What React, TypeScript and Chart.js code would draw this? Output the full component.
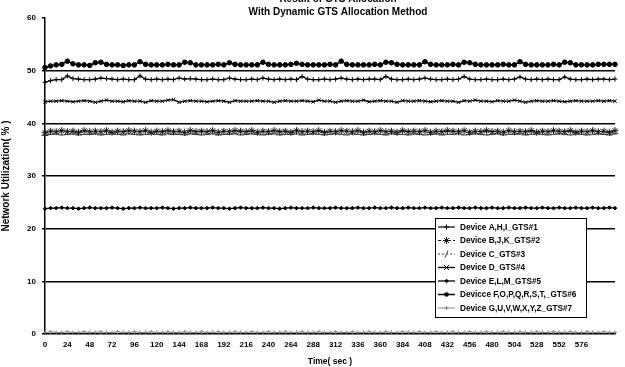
import React, { useEffect, useRef } from "react";
import { Chart, registerables } from "chart.js";

Chart.register(...registerables);

const titleLines = ["Result of GTS Allocation", "With Dynamic GTS Allocation Method"];
const xTitle = "Time( sec )";
const yTitle = "Network Utilization( % )";

const times = [
  0, 6, 12, 18, 24, 30, 36, 42, 48, 54, 60, 66, 72, 78, 84, 90, 96, 102, 108, 114,
  120, 126, 132, 138, 144, 150, 156, 162, 168, 174, 180, 186, 192, 198, 204, 210, 216, 222, 228, 234,
  240, 246, 252, 258, 264, 270, 276, 282, 288, 294, 300, 306, 312, 318, 324, 330, 336, 342, 348, 354,
  360, 366, 372, 378, 384, 390, 396, 402, 408, 414, 420, 426, 432, 438, 444, 450, 456, 462, 468, 474,
  480, 486, 492, 498, 504, 510, 516, 522, 528, 534, 540, 546, 552, 558, 564, 570, 576, 582, 588, 594,
  600, 606, 612,
];

const gts1 = [
  47.8, 48.1, 48.3, 48.3, 49.0, 48.5, 48.4, 48.3, 48.3, 48.4,
  48.6, 48.5, 48.4, 48.3, 48.4, 48.3, 48.3, 49.0, 48.4, 48.3,
  48.4, 48.3, 48.4, 48.3, 48.6, 48.4, 48.5, 48.4, 48.3, 48.3,
  48.4, 48.3, 48.3, 48.6, 48.4, 48.3, 48.3, 48.4, 48.3, 48.6,
  48.4, 48.3, 48.4, 48.3, 48.4, 48.3, 48.9, 48.4, 48.3, 48.3,
  48.4, 48.3, 48.4, 48.6, 48.4, 48.3, 48.4, 48.3, 48.4, 48.4,
  48.3, 48.9, 48.4, 48.3, 48.3, 48.4, 48.3, 48.4, 48.6, 48.4,
  48.3, 48.3, 48.4, 48.3, 48.4, 48.9, 48.4, 48.3, 48.3, 48.4,
  48.3, 48.3, 48.4, 48.3, 48.4, 48.8, 48.4, 48.3, 48.4, 48.3,
  48.4, 48.3, 48.3, 48.8, 48.4, 48.3, 48.3, 48.4, 48.3, 48.4,
  48.4, 48.3, 48.4,
];

const gts2 = [
  38.2, 38.5, 38.4, 38.6, 38.4, 38.5, 38.3, 38.6, 38.4, 38.5,
  38.4, 38.6, 38.3, 38.5, 38.4, 38.6, 38.5, 38.4, 38.6, 38.3,
  38.5, 38.4, 38.6, 38.4, 38.5, 38.3, 38.6, 38.4, 38.5, 38.4,
  38.6, 38.3, 38.5, 38.4, 38.6, 38.5, 38.4, 38.6, 38.3, 38.5,
  38.4, 38.6, 38.4, 38.5, 38.3, 38.6, 38.4, 38.5, 38.4, 38.6,
  38.3, 38.5, 38.4, 38.6, 38.5, 38.4, 38.6, 38.3, 38.5, 38.4,
  38.6, 38.4, 38.5, 38.3, 38.6, 38.4, 38.5, 38.4, 38.6, 38.3,
  38.5, 38.4, 38.6, 38.5, 38.4, 38.6, 38.3, 38.5, 38.4, 38.6,
  38.4, 38.5, 38.3, 38.6, 38.4, 38.5, 38.4, 38.6, 38.3, 38.5,
  38.4, 38.6, 38.5, 38.4, 38.6, 38.3, 38.5, 38.4, 38.6, 38.4,
  38.5, 38.3, 38.6,
];

const gts3 = [
  37.7, 37.9, 38.0, 37.8, 37.9, 38.0, 37.8, 37.9, 37.9, 38.0,
  37.8, 37.9, 38.0, 37.9, 37.8, 38.0, 37.9, 37.8, 37.9, 38.0,
  37.9, 37.8, 38.0, 37.9, 37.9, 37.8, 38.0, 37.9, 37.8, 37.9,
  38.0, 37.8, 37.9, 37.9, 38.0, 37.8, 37.9, 38.0, 37.9, 37.8,
  37.9, 38.0, 37.8, 37.9, 37.9, 38.0, 37.8, 37.9, 38.0, 37.9,
  37.8, 37.9, 38.0, 37.9, 37.8, 38.0, 37.9, 37.8, 37.9, 38.0,
  37.9, 37.8, 38.0, 37.9, 37.9, 37.8, 38.0, 37.9, 37.8, 37.9,
  38.0, 37.8, 37.9, 37.9, 38.0, 37.8, 37.9, 38.0, 37.9, 37.8,
  37.9, 38.0, 37.8, 37.9, 37.9, 38.0, 37.8, 37.9, 38.0, 37.9,
  37.8, 37.9, 38.0, 37.9, 37.8, 38.0, 37.9, 37.8, 37.9, 38.0,
  37.9, 37.8, 38.0,
];

const gts4 = [
  44.1, 44.2, 44.2, 44.3, 44.2, 44.1, 44.2, 44.3, 44.2, 44.0,
  44.2, 44.4, 44.2, 44.2, 44.1, 44.3, 44.2, 44.2, 44.0, 44.3,
  44.2, 44.2, 44.4, 44.5, 44.0, 44.2, 44.3, 44.2, 44.2, 44.1,
  44.2, 44.3, 44.2, 44.0, 44.3, 44.2, 44.2, 44.2, 44.3, 44.2,
  44.2, 44.0, 44.2, 44.3, 44.2, 44.2, 44.3, 44.2, 44.1, 44.4,
  44.2, 44.2, 44.0, 44.2, 44.3, 44.2, 44.2, 44.4, 44.1, 44.2,
  44.3, 44.2, 44.2, 44.0, 44.3, 44.2, 44.2, 44.3, 44.2, 44.1,
  44.2, 44.3, 44.2, 44.2, 44.0, 44.3, 44.2, 44.4, 44.2, 44.2,
  44.1, 44.3, 44.2, 44.2, 44.4, 44.2, 44.0, 44.2, 44.3, 44.2,
  44.2, 44.3, 44.2, 44.1, 44.2, 44.3, 44.2, 44.2, 44.2, 44.3,
  44.2, 44.3, 44.2,
];

const gts5 = [
  23.8, 23.9, 23.9, 24.0, 23.9, 23.9, 23.8, 23.9, 24.0, 23.9,
  23.9, 23.9, 24.0, 23.9, 23.8, 23.9, 23.9, 24.0, 23.9, 23.9,
  23.9, 24.0, 23.9, 23.8, 23.9, 23.9, 24.0, 23.9, 23.9, 23.9,
  24.0, 23.9, 23.9, 23.8, 23.9, 24.0, 23.9, 23.9, 23.9, 24.0,
  23.9, 23.9, 23.8, 23.9, 24.0, 23.9, 23.9, 23.9, 24.0, 23.9,
  23.9, 23.9, 24.0, 23.9, 23.9, 23.9, 24.0, 23.9, 23.9, 24.0,
  23.9, 23.9, 24.0, 23.9, 23.9, 24.0, 23.9, 23.9, 24.0, 23.9,
  23.9, 24.0, 23.9, 23.9, 24.0, 23.9, 23.9, 24.0, 23.9, 23.9,
  24.0, 23.9, 23.9, 24.0, 23.9, 23.9, 24.0, 23.9, 23.9, 24.0,
  23.9, 23.9, 24.0, 23.9, 23.9, 24.0, 23.9, 23.9, 24.0, 23.9,
  23.9, 24.0, 23.9,
];

const gts6 = [
  50.6, 50.9, 51.1, 51.2, 51.8, 51.3, 51.1, 51.1, 51.0, 51.5,
  51.6, 51.2, 51.1, 51.1, 51.0, 51.1, 51.1, 51.7, 51.2, 51.1,
  51.1, 51.1, 51.2, 51.1, 51.1, 51.6, 51.5, 51.1, 51.1, 51.1,
  51.1, 51.2, 51.1, 51.5, 51.2, 51.1, 51.1, 51.1, 51.1, 51.6,
  51.2, 51.1, 51.1, 51.1, 51.2, 51.4, 51.2, 51.1, 51.1, 51.1,
  51.1, 51.2, 51.1, 51.8, 51.2, 51.1, 51.1, 51.1, 51.1, 51.2,
  51.1, 51.6, 51.5, 51.2, 51.1, 51.1, 51.1, 51.1, 51.7, 51.2,
  51.1, 51.1, 51.1, 51.2, 51.1, 51.6, 51.5, 51.2, 51.1, 51.1,
  51.1, 51.1, 51.2, 51.1, 51.1, 51.7, 51.2, 51.1, 51.1, 51.1,
  51.1, 51.2, 51.1, 51.6, 51.5, 51.1, 51.1, 51.1, 51.1, 51.2,
  51.2, 51.2, 51.2,
];

const gts7 = [
  0.3, 0.4, 0.3, 0.3, 0.4, 0.3, 0.3, 0.4, 0.3, 0.3,
  0.4, 0.3, 0.3, 0.4, 0.3, 0.3, 0.4, 0.3, 0.3, 0.4,
  0.3, 0.3, 0.4, 0.3, 0.3, 0.4, 0.3, 0.3, 0.4, 0.3,
  0.3, 0.4, 0.3, 0.3, 0.4, 0.3, 0.3, 0.4, 0.3, 0.3,
  0.4, 0.3, 0.3, 0.4, 0.3, 0.3, 0.4, 0.3, 0.3, 0.4,
  0.3, 0.3, 0.4, 0.3, 0.3, 0.4, 0.3, 0.3, 0.4, 0.3,
  0.3, 0.4, 0.3, 0.3, 0.4, 0.3, 0.3, 0.4, 0.3, 0.3,
  0.4, 0.3, 0.3, 0.4, 0.3, 0.3, 0.4, 0.3, 0.3, 0.4,
  0.3, 0.3, 0.4, 0.3, 0.3, 0.4, 0.3, 0.3, 0.4, 0.3,
  0.3, 0.4, 0.3, 0.3, 0.4, 0.3, 0.3, 0.4, 0.3, 0.3,
  0.4, 0.3, 0.3,
];

const seriesNames = [
  "Device A,H,I_GTS#1",
  "Device B,J,K_GTS#2",
  "Device C_GTS#3",
  "Device D_GTS#4",
  "Device E,L,M_GTS#5",
  "Devicce F,O,P,Q,R,S,T,_GTS#6",
  "Device G,U,V,W,X,Y,Z_GTS#7",
];

const FONT = "'Liberation Sans', Arial, sans-serif";

type Style = {
  color: string;
  dash: number[];
  point: string;
  radius: number;
  width: number;
};

const styles: Style[] = [
  { color: "#000", dash: [], point: "cross", radius: 2.5, width: 1.2 },
  { color: "#111", dash: [3, 2], point: "star", radius: 3.5, width: 1.2 },
  { color: "#444", dash: [2, 2], point: "line", radius: 3.5, width: 1 },
  { color: "#000", dash: [], point: "crossRot", radius: 2.5, width: 1.3 },
  { color: "#000", dash: [], point: "rectRot", radius: 1.8, width: 1.3 },
  { color: "#000", dash: [], point: "circle", radius: 2.3, width: 1.5 },
  { color: "#888", dash: [], point: "cross", radius: 2, width: 1 },
];

function drawMarker(ctx: CanvasRenderingContext2D, style: string, x: number, y: number, r: number) {
  ctx.beginPath();
  if (style === "circle") {
    ctx.arc(x, y, r, 0, Math.PI * 2);
    ctx.fill();
    return;
  }
  if (style === "cross") {
    ctx.moveTo(x - r, y); ctx.lineTo(x + r, y);
    ctx.moveTo(x, y - r); ctx.lineTo(x, y + r);
  } else if (style === "crossRot") {
    ctx.moveTo(x - r, y - r); ctx.lineTo(x + r, y + r);
    ctx.moveTo(x - r, y + r); ctx.lineTo(x + r, y - r);
  } else if (style === "star") {
    ctx.moveTo(x - r, y); ctx.lineTo(x + r, y);
    ctx.moveTo(x, y - r); ctx.lineTo(x, y + r);
    ctx.moveTo(x - r * 0.7, y - r * 0.7); ctx.lineTo(x + r * 0.7, y + r * 0.7);
    ctx.moveTo(x - r * 0.7, y + r * 0.7); ctx.lineTo(x + r * 0.7, y - r * 0.7);
  } else if (style === "line") {
    ctx.moveTo(x - r * 0.4, y + r); ctx.lineTo(x + r * 0.4, y - r);
  } else if (style === "rectRot") {
    ctx.moveTo(x, y - r); ctx.lineTo(x + r, y); ctx.lineTo(x, y + r); ctx.lineTo(x - r, y); ctx.closePath();
    ctx.fill();
  }
  ctx.stroke();
}

const overlayPlugin = {
  id: "overlay",
  afterDraw(chart: any) {
    const ctx: CanvasRenderingContext2D = chart.ctx;
    ctx.save();
    // Title
    ctx.fillStyle = "#000";
    ctx.textAlign = "center";
    ctx.textBaseline = "middle";
    ctx.font = `bold 10px ${FONT}`;
    ctx.fillText(titleLines[0], 338, -1);
    ctx.fillText(titleLines[1], 338, 12);

    // Legend box
    const bx = 435, by = 218, bw = 151, bh = 99;
    ctx.fillStyle = "#fff";
    ctx.fillRect(bx, by, bw, bh);
    ctx.strokeStyle = "#000";
    ctx.lineWidth = 1;
    ctx.setLineDash([]);
    ctx.strokeRect(bx + 0.5, by + 0.5, bw, bh);
    ctx.font = `bold 8.2px ${FONT}`;
    ctx.textAlign = "left";
    for (let i = 0; i < seriesNames.length; i++) {
      const s = styles[i];
      const y = by + 9 + i * 13.5;
      ctx.strokeStyle = s.color;
      ctx.fillStyle = s.color;
      ctx.lineWidth = s.width;
      ctx.setLineDash(s.dash);
      ctx.beginPath();
      ctx.moveTo(bx + 3, y);
      ctx.lineTo(bx + 20, y);
      ctx.stroke();
      ctx.setLineDash([]);
      ctx.lineWidth = 1;
      drawMarker(ctx, s.point, bx + 11.5, y, s.radius);
      ctx.fillStyle = "#000";
      ctx.fillText(seriesNames[i], bx + 25, y + 0.5);
    }
    ctx.restore();
  },
};

export default function App() {
  const ref = useRef<HTMLCanvasElement | null>(null);

  useEffect(() => {
    if (!ref.current) return;
    const data = [gts1, gts2, gts3, gts4, gts5, gts6, gts7];
    const chart = new Chart(ref.current, {
      type: "line",
      data: {
        labels: times,
        datasets: data.map((d, i) => ({
          label: seriesNames[i],
          data: d,
          borderColor: styles[i].color,
          backgroundColor: styles[i].color,
          borderWidth: styles[i].width,
          borderDash: styles[i].dash,
          pointStyle: styles[i].point as any,
          pointRadius: styles[i].radius,
          pointBorderColor: styles[i].color,
          pointBackgroundColor: styles[i].color,
          pointBorderWidth: 1,
          tension: 0,
          fill: false,
        })),
      },
      plugins: [overlayPlugin],
      options: {
        responsive: false,
        animation: false,
        devicePixelRatio: 1,
        layout: { padding: { top: 18, right: 10, bottom: 0, left: 0 } },
        plugins: {
          legend: { display: false },
          title: { display: false },
          tooltip: { enabled: false },
        },
        scales: {
          x: {
            type: "category",
            offset: false,
            grid: { display: false, drawTicks: false },
            border: { display: true, color: "#000", width: 1.5 },
            ticks: {
              autoSkip: false,
              maxRotation: 0,
              minRotation: 0,
              padding: 6,
              color: "#000",
              font: { family: FONT, size: 8, weight: "bold" },
              callback: (_v: any, index: number) =>
                index % 4 === 0 && times[index] <= 576 ? String(times[index]) : "",
            },
            title: {
              display: true,
              text: xTitle,
              color: "#000",
              font: { family: FONT, size: 8.5, weight: "bold" },
              padding: { top: 2, bottom: 0 },
            },
            afterFit: (scale: any) => {
              scale.height = 33;
            },
          },
          y: {
            min: 0,
            max: 60,
            grid: {
              color: (c: any) => (c.tick && (c.tick.value === 0 || c.tick.value === 60) ? "rgba(0,0,0,0)" : "#000"),
              lineWidth: 1.5,
              tickLength: 3,
              tickColor: "#000",
            },
            border: { display: true, color: "#000", width: 1.5 },
            ticks: {
              stepSize: 10,
              padding: 6,
              color: "#000",
              font: { family: FONT, size: 8, weight: "bold" },
            },
            title: {
              display: true,
              text: yTitle,
              color: "#000",
              font: { family: FONT, size: 10, weight: "bold" },
              padding: { top: 0, bottom: 3 },
            },
            afterFit: (scale: any) => {
              scale.width = 45;
            },
          },
        },
      },
    });
    return () => chart.destroy();
  }, []);

  return (
    <div style={{ position: "absolute", left: 0, top: 0, width: 625, height: 367, background: "#fff" }}>
      <canvas ref={ref} width={625} height={367} style={{ width: 625, height: 367 }} />
    </div>
  );
}
